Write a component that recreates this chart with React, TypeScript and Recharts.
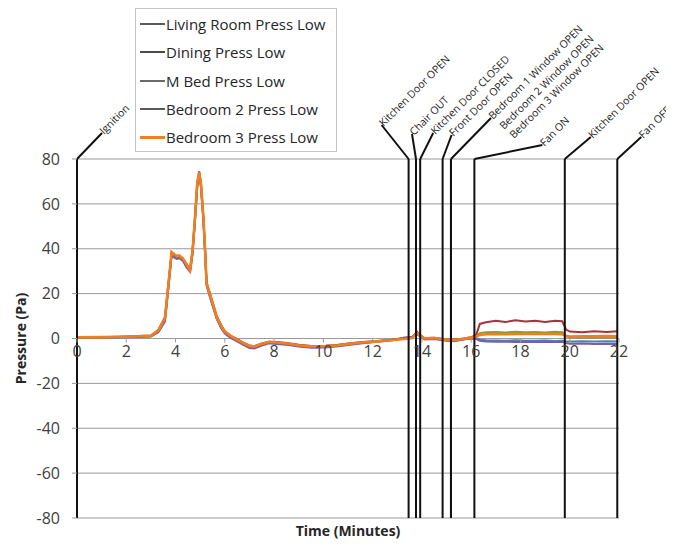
import React from 'react';
import { LineChart, Line, XAxis, YAxis, CartesianGrid, ReferenceLine, ReferenceDot, Legend } from 'recharts';

const minutes = [
  0, 1, 2, 3, 3.3, 3.57, 3.71, 3.84, 3.95, 4.05,
  4.15, 4.3, 4.45, 4.59, 4.69, 4.79, 4.88, 4.96, 5.03, 5.13,
  5.2, 5.26, 5.47, 5.67, 5.85, 6.0, 6.25, 6.5, 6.75, 7.0,
  7.2, 7.5, 7.8, 8.1, 8.5, 9.0, 9.5, 10.1, 10.6, 11.1,
  11.6, 12.2, 12.8, 13.3, 13.6, 13.8, 13.95, 14.1, 14.5, 15.0,
  15.3, 15.7, 16.0, 16.2, 16.35, 16.6, 17.0, 17.4, 17.8, 18.2,
  18.6, 19.0, 19.4, 19.7, 19.85, 20.0, 20.5, 21.0, 21.5, 21.95,
];

const livingRoom = [
  0.4, 0.5, 0.7, 1.0, 3.0, 8, 23, 37.5, 36.5, 36,
  36.2, 35, 32, 30, 38, 53, 68, 73, 68, 53,
  38, 24, 16, 9, 5, 2.5, 0.5, -1, -2.5, -3.8,
  -4, -2.8, -1.8, -2.2, -2.6, -3.3, -3.8, -3.7, -3.2, -2.5,
  -1.9, -1.3, -0.6, 0.2, 0.5, 2, 1, -0.2, 0, -0.8,
  -1, -0.3, 0.2, 0.2, -0.5, -0.8, -0.9, -1, -0.8, -1,
  -1, -0.9, -1.1, -1, -1.2, -1.3, -1.2, -1.3, -1.2, -1.3,
];

const dining = [
  0.6, 0.6, 0.9, 1.3, 3.8, 9.5, 24.5, 38, 37, 36.5,
  36.8, 35.5, 33, 31, 39.5, 54, 69.5, 74.5, 69.5, 54.5,
  39.5, 25, 17.5, 10, 6, 3.2, 1.2, -0.3, -1.8, -3.1,
  -3.4, -2.2, -1.4, -1.6, -2, -2.8, -3.3, -3.2, -2.8, -2.1,
  -1.6, -1.1, -0.5, 0, 0.4, 3, 1.4, 0.2, 0.3, -0.4,
  -0.6, 0, 0.6, 1.5, 6.5, 7.2, 7.9, 7.4, 8.1, 7.6,
  7.9, 7.4, 7.9, 7.7, 4, 3.1, 2.8, 3.2, 2.9, 3.2,
];

const mBed = [
  0.5, 0.5, 0.8, 1.1, 3.3, 8.5, 23.5, 38, 37.2, 36.3,
  36.6, 35.4, 32.6, 30.8, 38.6, 53.5, 68.5, 73.6, 68.6, 53.6,
  38.6, 24.2, 16.6, 9.3, 5.3, 2.8, 0.8, -0.7, -2.2, -3.5,
  -3.8, -2.6, -1.6, -2, -2.4, -3.1, -3.6, -3.5, -3.1, -2.4,
  -1.8, -1.2, -0.6, -0.1, 0.3, 2.2, 1.1, 0.1, 0.1, -0.6,
  -0.8, -0.1, 0.4, 1, 2.4, 2.8, 2.9, 2.7, 3, 2.8,
  2.9, 2.7, 3, 2.8, 1, 0.6, 0.5, 0.6, 0.5, 0.6,
];

const bedroom2 = [
  0.3, 0.4, 0.6, 0.9, 2.8, 7.5, 22.5, 37, 36, 35.5,
  35.8, 34.6, 31.6, 29.8, 37.6, 52.6, 67.6, 72.8, 67.8, 52.8,
  37.8, 23.6, 15.8, 8.8, 4.6, 2.2, 0.2, -1.3, -2.8, -4.2,
  -4.4, -3.1, -2.1, -2.4, -2.8, -3.6, -4.1, -4, -3.5, -2.8,
  -2.1, -1.5, -0.8, 0.4, 0.8, 1.8, 0.8, -0.4, -0.2, -1,
  -1.2, -0.5, 0, -0.2, -1, -1.3, -1.5, -1.4, -1.6, -1.5,
  -1.6, -1.5, -1.6, -1.5, -2, -2.3, -2.2, -2.4, -2.3, -2.5,
];

const bedroom3 = [
  0.5, 0.6, 0.8, 1.2, 3.5, 9, 24, 38.5, 37.5, 36.8,
  37, 35.7, 33, 30.5, 39, 54, 69, 74, 69, 54,
  39, 24.5, 17, 9.5, 5.5, 3, 1, -0.5, -2, -3.3,
  -3.6, -2.4, -1.5, -1.8, -2.2, -3, -3.5, -3.4, -3, -2.3,
  -1.8, -1.3, -0.7, -0.2, 0.2, 2.5, 1.2, 0, 0.2, -0.6,
  -0.8, -0.1, 0.4, 0.8, 1.6, 1.9, 2, 1.9, 2, 2,
  2, 2.1, 2, 1.9, 1.2, 0.9, 1, 1, 1.1, 1,
];

const seriesNames = [
  'Living Room Press Low',
  'Dining Press Low',
  'M Bed Press Low',
  'Bedroom 2 Press Low',
  'Bedroom 3 Press Low',
];
const seriesKeys = ['living', 'dining', 'mbed', 'bed2', 'bed3'];

const xTicks = [0, 2, 4, 6, 8, 10, 12, 14, 16, 18, 20, 22];
const yTicks = [-80, -60, -40, -20, 0, 20, 40, 60, 80];

const eventTimes = [0, 13.46, 13.76, 13.93, 14.84, 15.18, 15.18, 15.18, 16.13, 19.8, 21.93];
const eventLabels = [
  'Ignition',
  'Kitchen Door OPEN',
  'Chair OUT',
  'Kitchen Door CLOSED',
  'Front Door OPEN',
  'Bedroom  1 Window OPEN',
  'Bedroom  2 Window OPEN',
  'Bedroom  3 Window OPEN',
  'Fan ON',
  'Kitchen Door OPEN',
  'Fan OFF',
];

// layout of the annotation callouts (pixel offsets from the top of each event line)
const calloutOffsets: [number, number, boolean][] = [
  [25, -26, true],
  [-27, -34, true],
  [-4, -25, true],
  [13, -26, true],
  [9, -24, true],
  [40, -41, true],
  [51, -31, false],
  [61, -22, false],
  [68, -14, true],
  [26, -22, true],
  [24, -22, true],
];

const seriesColors = ['#4F81BD', '#A8323E', '#8F9A3C', '#7B5EA3', '#F07F1E'];
const legendSwatch = ['#5a5a5a', '#4a4a4a', '#6a6a6a', '#5a5a5a', '#F07F1E'];

const FONT = "'Open Sans', 'DejaVu Sans', sans-serif";

const data = minutes.map((t, i) => ({
  t,
  living: livingRoom[i],
  dining: dining[i],
  mbed: mBed[i],
  bed2: bedroom2[i],
  bed3: bedroom3[i],
}));

function renderCallout(lp: any, i: number) {
  const vb = (lp && lp.viewBox) || lp || {};
  const x = vb.x;
  const y = vb.y;
  if (typeof x !== 'number' || typeof y !== 'number') return null;
  const [dx, dy, leader] = calloutOffsets[i];
  const ex = x + dx;
  const ey = y + dy;
  const tx = ex + 2;
  const ty = ey + 2;
  return (
    <g key={'ev' + i}>
      {leader && <line x1={x} y1={y} x2={ex} y2={ey} stroke="#111" strokeWidth={2} />}
      <text
        x={tx}
        y={ty}
        transform={`rotate(-45 ${tx} ${ty})`}
        fontSize={10.5}
        fontFamily={FONT}
        fill="#222"
      >
        {eventLabels[i]}
      </text>
    </g>
  );
}

function LegendBox() {
  return (
    <div
      style={{
        width: 202,
        height: 144,
        boxSizing: 'border-box',
        border: '1px solid #c4c4c4',
        background: '#fff',
        paddingTop: 1,
        fontFamily: FONT,
      }}
    >
      {seriesNames.map((name, i) => (
        <div key={name} style={{ display: 'flex', alignItems: 'center', height: 28.3 }}>
          <div style={{ width: 25, height: i === 4 ? 3 : 2, background: legendSwatch[i], marginLeft: 4 }} />
          <span style={{ fontSize: 15, color: '#262626', marginLeft: 1, whiteSpace: 'nowrap' }}>{name}</span>
        </div>
      ))}
    </div>
  );
}

export default function App() {
  return (
    <LineChart
      width={666}
      height={538}
      data={data}
      margin={{ top: 151, right: 55, bottom: 0, left: 8 }}
    >
      <CartesianGrid vertical={false} stroke="#9a9a9a" strokeWidth={1} />
      <XAxis
        type="number"
        dataKey="t"
        domain={[0, 22]}
        ticks={xTicks}
        tick={false}
        axisLine={false}
        tickLine={false}
        height={28}
        label={{
          value: 'Time (Minutes)',
          position: 'insideBottom',
          offset: 10,
          style: { fontFamily: FONT, fontSize: 14, fontWeight: 700, fill: '#262626' },
        }}
      />
      <YAxis
        type="number"
        domain={[-80, 80]}
        ticks={yTicks}
        interval={0}
        width={61}
        axisLine={{ stroke: '#111', strokeWidth: 2 }}
        tickLine={{ stroke: '#9a9a9a' }}
        tickSize={5}
        tickMargin={12}
        tick={{ fill: '#404040', fontSize: 16, fontFamily: FONT }}
        label={{
          value: 'Pressure (Pa)',
          angle: -90,
          position: 'insideLeft',
          offset: 5,
          style: { fontFamily: FONT, fontSize: 14, fontWeight: 700, fill: '#262626', textAnchor: 'middle' },
        }}
      />
      <Legend
        layout="vertical"
        align="center"
        verticalAlign="middle"
        wrapperStyle={{ left: 127, top: 0, width: 202, height: 144 }}
        content={() => <LegendBox />}
      />
      {xTicks.map((xt) => (
        <ReferenceDot
          key={'xt' + xt}
          x={xt}
          y={0}
          r={0}
          ifOverflow="visible"
          shape={(p: any) => (
            <g>
              <line x1={p.cx} y1={p.cy} x2={p.cx} y2={p.cy + 4} stroke="#9a9a9a" />
              <text
                x={p.cx}
                y={p.cy + 18}
                textAnchor="middle"
                fontSize={16}
                fontFamily={FONT}
                fill="#404040"
              >
                {xt}
              </text>
            </g>
          )}
        />
      ))}
      {seriesKeys.map((k, i) => (
        <Line
          key={k}
          type="linear"
          dataKey={k}
          name={seriesNames[i]}
          stroke={seriesColors[i]}
          strokeWidth={i === 4 ? 2.6 : 2}
          dot={false}
          isAnimationActive={false}
        />
      ))}
      {eventTimes.map((et, i) => (
        <ReferenceLine
          key={'ev' + i}
          x={et}
          stroke="#111"
          strokeWidth={2}
          ifOverflow="visible"
          label={(lp: any) => renderCallout(lp, i)}
        />
      ))}
    </LineChart>
  );
}
